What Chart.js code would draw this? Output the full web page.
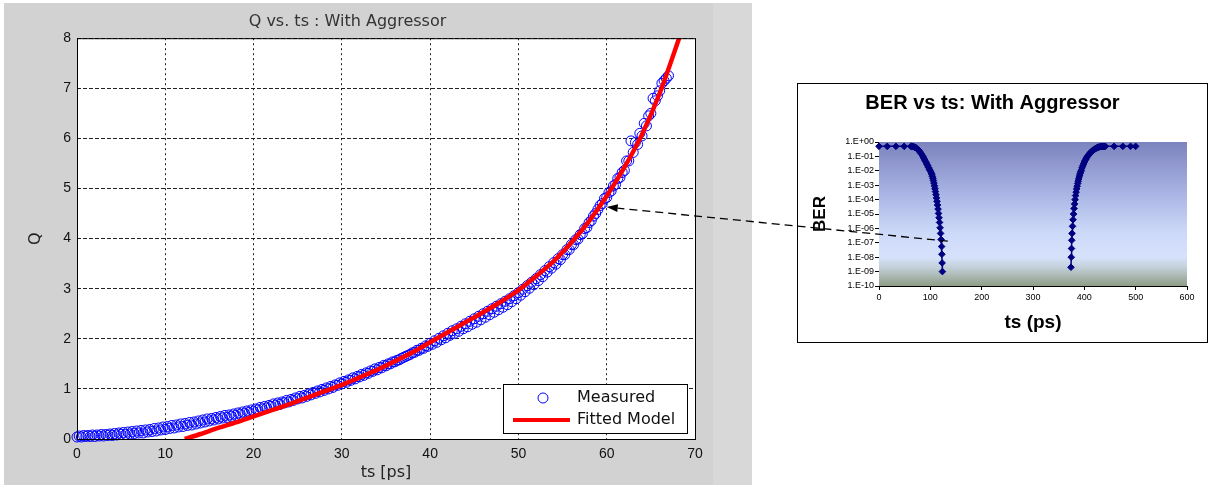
<!DOCTYPE html>
<html>
<head>
<meta charset="utf-8">
<script src="https://cdn.jsdelivr.net/npm/chart.js@4.4.1/dist/chart.umd.min.js"></script>
<style>
  body { margin:0; background:#fff; width:1209px; height:485px; position:relative; overflow:hidden; }
  #fig { position:absolute; left:4px; top:3px; width:748px; height:482px; background:#d2d2d2; }
  #figStrip { position:absolute; left:713px; top:3px; width:39px; height:482px; background:#d8d8d8; }
  #qChart { position:absolute; left:0; top:0; }
  #insetBox { position:absolute; left:797px; top:83px; width:409px; height:258px; border:1px solid #000; background:#fff; }
  #overlay { position:absolute; left:0; top:0; pointer-events:none; }
</style>
</head>
<body>
<div id="fig"></div>
<div id="figStrip"></div>
<canvas id="qChart" width="752" height="485"></canvas>
<div id="insetBox"><canvas id="berChart" width="409" height="258"></canvas></div>
<canvas id="overlay" width="1209" height="485"></canvas>
<script>
// Q vs ts data (left, matlab style)
const measuredT = [0,0.5,1,1.5,2,2.5,3,3.5,4,4.5,5,5.5,6,6.5,7,7.5,8,8.5,9,9.5,
  10,10.5,11,11.5,12,12.5,13,13.5,14,14.5,15,15.5,16,16.5,17,17.5,18,18.5,19,19.5,
  20,20.5,21,21.5,22,22.5,23,23.5,24,24.5,25,25.5,26,26.5,27,27.5,28,28.5,29,29.5,
  30,30.5,31,31.5,32,32.5,33,33.5,34,34.5,35,35.5,36,36.5,37,37.5,38,38.5,39,39.5,
  40,40.5,41,41.5,42,42.5,43,43.5,44,44.5,45,45.5,46,46.5,47,47.5,48,48.5,49,49.5,
  50,50.5,51,51.5,52,52.5,53,53.5,54,54.5,55,55.5,56,56.5,57,57.5,58,58.5,59,59.5,
  60,60.5,61,61.5,62,62.5,63,63.5,64,64.5,65,65.5,66,66.5,67];
const measuredQ = [0.04,0.04,0.05,0.05,0.05,0.06,0.06,0.07,0.07,0.08,0.09,0.09,0.10,0.11,0.12,0.12,0.14,0.15,0.16,0.18,
  0.19,0.21,0.22,0.24,0.25,0.27,0.28,0.30,0.32,0.34,0.36,0.38,0.40,0.42,0.43,0.45,0.47,0.49,0.51,0.53,
  0.55,0.58,0.60,0.62,0.65,0.67,0.69,0.72,0.74,0.77,0.80,0.82,0.85,0.88,0.91,0.94,0.97,1.00,1.03,1.07,
  1.10,1.13,1.17,1.20,1.24,1.27,1.31,1.35,1.38,1.42,1.46,1.50,1.54,1.58,1.63,1.67,1.72,1.77,1.81,1.86,
  1.91,1.96,2.01,2.06,2.11,2.16,2.20,2.25,2.30,2.35,2.40,2.45,2.50,2.55,2.60,2.65,2.70,2.75,2.80,2.86,
  2.92,2.99,3.06,3.13,3.20,3.28,3.36,3.44,3.52,3.60,3.68,3.78,3.88,3.98,4.08,4.20,4.32,4.45,4.58,4.70,
  4.82,4.95,5.08,5.22,5.36,5.55,5.72,5.88,6.05,6.25,6.50,6.75,6.95,7.15,7.25];
// second sweep, interleaved
const measuredT2 = [0.25,0.75,1.25,1.75,2.25,2.75,3.25,3.75,4.25,4.75,5.25,5.75,6.25,6.75,7.25,7.75,8.25,8.75,9.25,9.75,
  10.25,10.75,11.25,11.75,12.25,12.75,13.25,13.75,14.25,14.75,15.25,15.75,16.25,16.75,17.25,17.75,18.25,18.75,19.25,19.75,
  20.25,20.75,21.25,21.75,22.25,22.75,23.25,23.75,24.25,24.75,25.25,25.75,26.25,26.75,27.25,27.75,28.25,28.75,29.25,29.75,
  30.25,30.75,31.25,31.75,32.25,32.75,33.25,33.75,34.25,34.75,35.25,35.75,36.25,36.75,37.25,37.75,38.25,38.75,39.25,39.75,
  40.25,40.75,41.25,41.75,42.25,42.75,43.25,43.75,44.25,44.75,45.25,45.75,46.25,46.75,47.25,47.75,48.25,48.75,49.25,49.75,
  50.25,50.75,51.25,51.75,52.25,52.75,53.25,53.75,54.25,54.75,55.25,55.75,56.25,56.75,57.25,57.75,58.25,58.75,59.25,59.75,
  60.25,60.75,61.25,61.75,62.25,62.75,63.25,63.75,64.25,64.75,65.25,65.75,66.25,66.75];
const measuredQ2 = [0.06,0.07,0.07,0.08,0.08,0.09,0.09,0.10,0.11,0.12,0.13,0.14,0.15,0.16,0.17,0.18,0.19,0.21,0.22,0.24,
  0.25,0.27,0.28,0.30,0.31,0.33,0.34,0.36,0.38,0.40,0.41,0.43,0.45,0.47,0.48,0.50,0.52,0.54,0.56,0.58,
  0.60,0.63,0.65,0.67,0.70,0.72,0.74,0.77,0.79,0.82,0.85,0.87,0.90,0.93,0.96,0.99,1.02,1.05,1.08,1.12,
  1.15,1.18,1.22,1.25,1.29,1.32,1.36,1.40,1.43,1.47,1.50,1.54,1.57,1.61,1.65,1.69,1.73,1.77,1.81,1.85,
  1.89,1.93,1.98,2.02,2.07,2.11,2.15,2.20,2.24,2.29,2.33,2.38,2.43,2.48,2.53,2.58,2.63,2.68,2.74,2.80,
  2.87,2.94,3.01,3.08,3.16,3.24,3.33,3.41,3.49,3.58,3.68,3.78,3.88,3.99,4.10,4.22,4.36,4.50,4.66,4.80,
  4.92,5.05,5.20,5.32,5.55,5.95,5.92,6.10,6.30,6.45,6.80,6.85,7.10,7.20];
const fitT = [12.2,14,16,18,20,22,24,26,28,30,32,34,36,38,40,42,44,46,48,50,52,54,56,58,60,62,64,66,68.4];
const fitQ = [0,0.10,0.22,0.33,0.45,0.57,0.69,0.82,0.95,1.08,1.23,1.38,1.55,1.73,1.93,2.13,2.33,2.53,2.74,2.97,3.25,3.55,3.92,4.35,4.85,5.42,6.08,6.90,8.1];
const qXTicks = [0,10,20,30,40,50,60,70];
const qYTicks = [0,1,2,3,4,5,6,7,8];

// BER vs ts data (right inset)
const berLeftT = [0,16,33,49,62,63.5,65,66.5,68,69.5,71,72.5,74,75.5,77,78.5,80,81.5,83,84.5,
  86,87.5,89,90.5,92,93.5,95,96.5,98,99.5,101,102,103,104,105,106,107,108,109,110,
  111,112,113,114,115,116,117,118,119,120,121,122,122.5,123,123.5];
const berLeftV = [0.5,0.5,0.5,0.5,0.5,0.5,0.49,0.48,0.46,0.44,0.41,0.38,0.34,0.31,0.27,0.235,0.2,0.17,0.14,0.115,
  0.092,0.073,0.057,0.046,0.036,0.028,0.022,0.017,0.013,0.0105,0.0082,0.0068,0.0054,0.0041,0.003,0.0021,0.0014,9e-4,5.8e-4,3.6e-4,
  2.2e-4,1.3e-4,7.5e-5,4.2e-5,2.2e-5,1.1e-5,5.5e-6,2.6e-6,1.1e-6,4.5e-7,1.7e-7,5.5e-8,1.6e-8,4e-9,1e-9];
const berRightT = [374,374.5,375,375.5,376,377,378,379,380,381,382,383,384,385,386,387,388,389,390,391,
  392,393,394,395.5,397,398.5,400,401.5,403,404.5,406,407.5,409,410.5,412,413.5,415,416.5,418,419.5,
  421,422.5,424,425.5,427,428.5,430,431.5,433,434.5,436,437.5,439,441,458,475,490,500];
const berRightV = [2e-9,1e-8,4e-8,1.5e-7,4.5e-7,1.4e-6,4e-6,1e-5,2.4e-5,5e-5,1e-4,1.9e-4,3.3e-4,5.5e-4,8.5e-4,0.0013,0.0019,0.0027,0.0037,0.005,
  0.0066,0.0086,0.011,0.016,0.022,0.03,0.04,0.052,0.066,0.082,0.1,0.12,0.14,0.16,0.185,0.21,0.235,0.26,0.285,0.31,
  0.335,0.36,0.385,0.41,0.43,0.45,0.465,0.478,0.488,0.495,0.5,0.5,0.5,0.5,0.5,0.5,0.5,0.5];
const berXTicks = [0,100,200,300,400,500,600];
const berTickValues = [1e-10,1e-9,1e-8,1e-7,1e-6,1e-5,1e-4,1e-3,1e-2,1e-1,1];
const berTickLabels = ['1.E-10','1.E-09','1.E-08','1.E-07','1.E-06','1.E-05','1.E-04','1.E-03','1.E-02','1.E-01','1.E+00'];

// arrow: from a point on the BER curve to a point on the Q curve
const arrowFrom = { x: 134, y: 1.3e-7 };
const arrowTo = { x: 60, y: 4.63 };

const pairs = (xs, ys) => xs.map((x, i) => ({ x: x, y: ys[i] }));
const dejavu = "'DejaVu Sans', sans-serif";
const arial = "'Liberation Sans', Arial, sans-serif";

const matlabAxes = {
  id: 'matlabAxes',
  beforeDraw(chart) {
    const a = chart.chartArea, ctx = chart.ctx;
    ctx.save();
    ctx.fillStyle = '#fff';
    ctx.fillRect(a.left, a.top, a.right - a.left, a.bottom - a.top);
    ctx.restore();
  },
  afterDraw(chart) {
    const a = chart.chartArea, ctx = chart.ctx;
    ctx.save();
    ctx.strokeStyle = '#000';
    ctx.lineWidth = 1;
    ctx.strokeRect(a.left + 0.5, a.top + 0.5, a.right - a.left, a.bottom - a.top);
    // legend inside, bottom right
    const w = 184, h = 49;
    const lx = a.right - 8 - w, ly = a.bottom - 6 - h;
    ctx.fillStyle = '#fff';
    ctx.fillRect(lx, ly, w, h);
    ctx.strokeRect(lx + 0.5, ly + 0.5, w, h);
    const sets = chart.data.datasets;
    const m = sets.find(d => d.label === 'Measured');
    const f = sets.find(d => d.label === 'Fitted Model');
    ctx.strokeStyle = m.borderColor;
    ctx.beginPath();
    ctx.arc(lx + 40, ly + 14, 5, 0, Math.PI * 2);
    ctx.stroke();
    ctx.strokeStyle = f.borderColor;
    ctx.lineWidth = 4;
    ctx.beginPath();
    ctx.moveTo(lx + 10, ly + 36);
    ctx.lineTo(lx + 67, ly + 36);
    ctx.stroke();
    ctx.fillStyle = '#111';
    ctx.font = '16px ' + dejavu;
    ctx.textBaseline = 'middle';
    ctx.fillText(m.label, lx + 74, ly + 14);
    ctx.fillText(f.label, lx + 74, ly + 36);
    ctx.restore();
  }
};

const circleStyle = {
  showLine: false,
  borderColor: '#0000ff',
  backgroundColor: 'rgba(0,0,0,0)',
  pointRadius: 5,
  pointBorderWidth: 1,
  clip: false,
  order: 2
};

const qChart = new Chart(document.getElementById('qChart'), {
  type: 'scatter',
  data: {
    datasets: [
      Object.assign({ label: 'Measured', data: pairs(measuredT, measuredQ) }, circleStyle),
      Object.assign({ label: 'Measured (sweep 2)', data: pairs(measuredT2, measuredQ2) }, circleStyle),
      {
        label: 'Fitted Model',
        data: pairs(fitT, fitQ),
        showLine: true,
        borderColor: '#ff0000',
        borderWidth: 4.5,
        pointRadius: 0,
        tension: 0.3,
        clip: 0,
        order: 1
      }
    ]
  },
  options: {
    responsive: false,
    animation: false,
    layout: { padding: { left: 0, right: 57, top: 0, bottom: 0 } },
    plugins: {
      legend: { display: false },
      tooltip: { enabled: false },
      title: {
        display: true,
        text: 'Q vs. ts : With Aggressor',
        color: '#333',
        font: { family: dejavu, size: 16, weight: 'normal' },
        padding: { top: 12, bottom: 7 }
      }
    },
    scales: {
      x: {
        type: 'linear', min: 0, max: 70,
        afterBuildTicks: s => { s.ticks = qXTicks.map(v => ({ value: v })); },
        afterFit: s => { s.height = 46; },
        grid: { color: '#222', lineWidth: 1, drawTicks: false },
        border: { display: false, dash: [2, 3] },
        ticks: { color: '#111', padding: 7, font: { family: arial, size: 14 } },
        title: { display: true, text: 'ts [ps]', color: '#222', font: { family: dejavu, size: 16 }, padding: { top: 0, bottom: 3 } }
      },
      y: {
        type: 'linear', min: 0, max: 8,
        afterBuildTicks: s => { s.ticks = qYTicks.map(v => ({ value: v })); },
        afterFit: s => { s.width = 77; },
        grid: { color: '#222', lineWidth: 1, drawTicks: false },
        border: { display: false, dash: [4, 2] },
        ticks: { color: '#111', padding: 6, font: { family: arial, size: 14 } },
        title: { display: true, text: 'Q', color: '#222', font: { family: dejavu, size: 16 }, padding: { top: 26, bottom: 0 } }
      }
    }
  },
  plugins: [matlabAxes]
});

const excelBackground = {
  id: 'excelBackground',
  beforeDatasetsDraw(chart) {
    const a = chart.chartArea, ctx = chart.ctx;
    const g = ctx.createLinearGradient(0, a.top, 0, a.bottom);
    g.addColorStop(0, '#7c83be');
    g.addColorStop(0.35, '#a9b3e3');
    g.addColorStop(0.62, '#ccd8f8');
    g.addColorStop(0.8, '#d6e2fb');
    g.addColorStop(0.87, '#c3d0da');
    g.addColorStop(1, '#8f9d85');
    ctx.save();
    ctx.fillStyle = g;
    ctx.fillRect(a.left, a.top, a.right - a.left, a.bottom - a.top);
    ctx.restore();
  }
};

const berStyle = {
  showLine: true,
  borderColor: '#000080',
  backgroundColor: '#000080',
  borderWidth: 1.5,
  pointStyle: 'rectRot',
  pointRadius: 3.3,
  pointBorderWidth: 1,
  clip: false
};

const berChart = new Chart(document.getElementById('berChart'), {
  type: 'scatter',
  data: {
    datasets: [
      Object.assign({ label: 'BER left', data: pairs(berLeftT, berLeftV) }, berStyle),
      Object.assign({ label: 'BER right', data: pairs(berRightT, berRightV) }, berStyle)
    ]
  },
  options: {
    responsive: false,
    animation: false,
    layout: { padding: { left: 0, right: 20, top: 0, bottom: 0 } },
    plugins: {
      legend: { display: false },
      tooltip: { enabled: false },
      title: {
        display: true,
        text: 'BER vs ts: With Aggressor',
        color: '#000',
        font: { family: arial, size: 20, weight: 'bold' },
        padding: { top: 7, bottom: 27 }
      }
    },
    scales: {
      x: {
        type: 'linear', min: 0, max: 600,
        afterBuildTicks: s => { s.ticks = berXTicks.map(v => ({ value: v })); },
        afterFit: s => { s.height = 56; },
        grid: { drawOnChartArea: false, drawTicks: true, tickLength: 4, tickColor: '#000' },
        border: { display: true, color: '#000', width: 1 },
        ticks: { color: '#000', padding: 2, font: { family: arial, size: 9 } },
        title: { display: true, text: 'ts (ps)', color: '#000', font: { family: arial, size: 19, weight: 'bold' }, padding: { top: 0, bottom: 8 } }
      },
      y: {
        type: 'logarithmic', min: 1e-10, max: 1,
        afterBuildTicks: s => { s.ticks = berTickValues.map(v => ({ value: v })); },
        afterFit: s => { s.width = 81; },
        grid: { drawOnChartArea: false, drawTicks: true, tickLength: 4, tickColor: '#000' },
        border: { display: true, color: '#000', width: 1 },
        ticks: {
          color: '#000', padding: 1, font: { family: arial, size: 9 },
          callback: (v) => berTickLabels[berTickValues.indexOf(v)]
        },
        title: { display: true, text: 'BER', color: '#000', font: { family: arial, size: 17, weight: 'bold' }, padding: { top: 12, bottom: 0 } }
      }
    }
  },
  plugins: [excelBackground]
});

// dashed arrow linking the two charts
function drawArrow() {
  const ov = document.getElementById('overlay');
  const ctx = ov.getContext('2d');
  const r1 = qChart.canvas.getBoundingClientRect();
  const r2 = berChart.canvas.getBoundingClientRect();
  const x0 = r2.left + berChart.scales.x.getPixelForValue(arrowFrom.x);
  const y0 = r2.top + berChart.scales.y.getPixelForValue(arrowFrom.y);
  const x1 = r1.left + qChart.scales.x.getPixelForValue(arrowTo.x);
  const y1 = r1.top + qChart.scales.y.getPixelForValue(arrowTo.y);
  const ang = Math.atan2(y1 - y0, x1 - x0);
  const len = 11, half = 4;
  const bx = x1 - len * Math.cos(ang), by = y1 - len * Math.sin(ang);
  ctx.save();
  ctx.strokeStyle = '#000';
  ctx.lineWidth = 1.3;
  ctx.setLineDash([8, 5]);
  ctx.beginPath();
  ctx.moveTo(x0, y0);
  ctx.lineTo(bx, by);
  ctx.stroke();
  ctx.setLineDash([]);
  ctx.fillStyle = '#000';
  ctx.beginPath();
  ctx.moveTo(x1, y1);
  ctx.lineTo(bx + half * Math.sin(ang), by - half * Math.cos(ang));
  ctx.lineTo(bx - half * Math.sin(ang), by + half * Math.cos(ang));
  ctx.closePath();
  ctx.fill();
  ctx.restore();
}
drawArrow();
</script>
</body>
</html>
